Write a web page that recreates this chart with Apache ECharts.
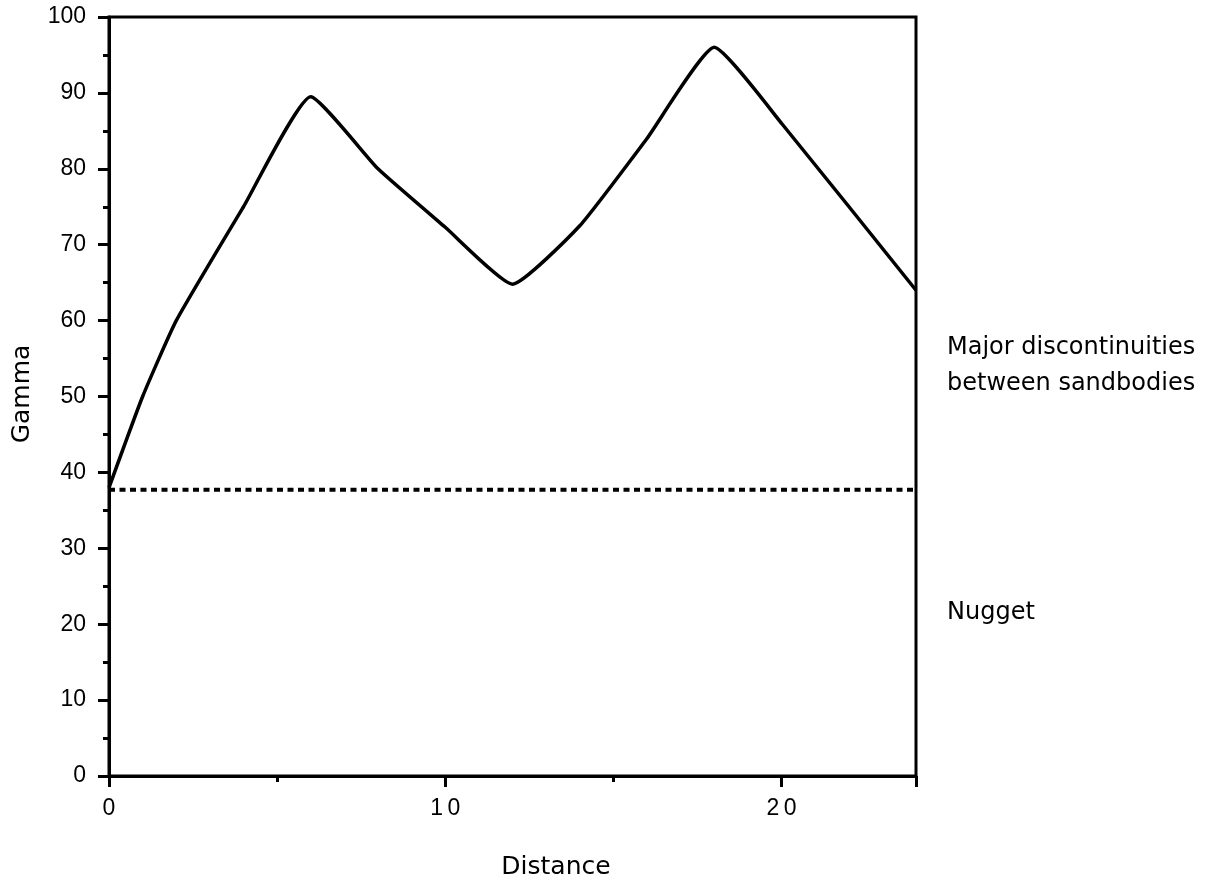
<!DOCTYPE html>
<html><head><meta charset="utf-8">
<script src="https://cdn.jsdelivr.net/npm/echarts@6/dist/echarts.min.js"></script>
<style>html,body{margin:0;padding:0;background:#fff}#c{width:1209px;height:886px}</style>
</head><body><div id="c"></div>
<script>
const distance = [0, 1, 2, 4, 6, 8, 10, 12, 14, 16, 18, 20, 24];
const gamma = [38, 50, 60, 75, 89.5, 80, 72.3, 64.8, 72.5, 84, 96, 86, 64];
const nuggetLevel = 37.7;
const xTickLabels = {0: '0', 10: '1\u20090', 20: '2\u20090'};
const yLabel = 'Gamma';
const xLabel = 'Distance';
const noteTop1 = 'Major discontinuities';
const noteTop2 = 'between sandbodies';
const noteBottom = 'Nugget';

const chart = echarts.init(document.getElementById('c'));
const font = '"Liberation Sans", Arial, Helvetica, sans-serif';
const tfont = '"DejaVu Sans", sans-serif';
chart.setOption({
  animation: false,
  grid: {left: 109, right: 293, top: 17, bottom: 110, show: true, borderColor: '#000', borderWidth: 3, backgroundColor: 'transparent'},
  xAxis: {
    type: 'value', min: 0, max: 24, interval: 10,
    axisLine: {show: true, lineStyle: {color: '#000', width: 3}},
    axisTick: {show: true, inside: false, length: 11, lineStyle: {color: '#000', width: 3}},
    minorTick: {show: true, splitNumber: 2, length: 6, lineStyle: {color: '#000', width: 3}},
    splitLine: {show: false},
    axisLabel: {color: '#000', fontSize: 23, fontFamily: font, margin: 21,
      formatter: v => xTickLabels[v] !== undefined ? xTickLabels[v] : ''}
  },
  yAxis: {
    type: 'value', min: 0, max: 100, interval: 10,
    axisLine: {show: true, lineStyle: {color: '#000', width: 3}},
    axisTick: {show: true, length: 11, lineStyle: {color: '#000', width: 3}},
    minorTick: {show: true, splitNumber: 2, length: 6, lineStyle: {color: '#000', width: 3}},
    splitLine: {show: false},
    axisLabel: {color: '#000', fontSize: 23, fontFamily: font, margin: 23}
  },
  series: [
    {type: 'line', data: distance.map((d, i) => [d, gamma[i]]), smooth: 0.15,
      showSymbol: false, lineStyle: {color: '#000', width: 3.5}},
    {type: 'line', data: [[0, nuggetLevel], [24, nuggetLevel]], showSymbol: false,
      lineStyle: {color: '#000', width: 4, type: [6, 4.5]}}
  ],
  graphic: [
    {type: 'text', x: 22, y: 394, rotation: Math.PI / 2, style: {text: yLabel, x: 0, y: 0, font: '25px ' + tfont, fill: '#000', align: 'center', verticalAlign: 'middle'}},
    {type: 'text', style: {text: xLabel, x: 556, y: 867, font: '25px ' + tfont, fill: '#000', align: 'center', verticalAlign: 'middle'}},
    {type: 'text', style: {text: noteTop1, x: 947, y: 348, font: '24px ' + tfont, fill: '#000', align: 'left', verticalAlign: 'middle'}},
    {type: 'text', style: {text: noteTop2, x: 947, y: 384, font: '24px ' + tfont, fill: '#000', align: 'left', verticalAlign: 'middle'}},
    {type: 'text', style: {text: noteBottom, x: 947, y: 613, font: '24px ' + tfont, fill: '#000', align: 'left', verticalAlign: 'middle'}}
  ]
});
</script></body></html>
